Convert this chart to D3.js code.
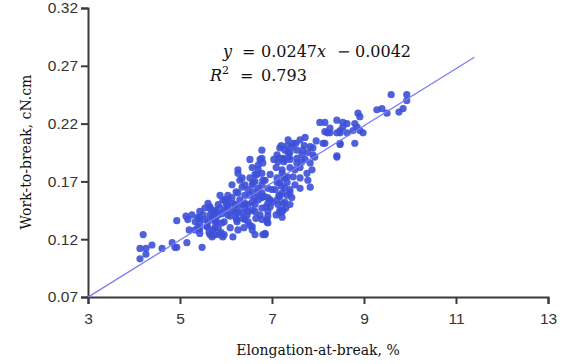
<!DOCTYPE html>
<html>
<head>
<meta charset="utf-8">
<script src="https://cdn.jsdelivr.net/npm/d3@7"></script>
<style>
  body { margin: 0; background: #fff; }
  svg { display: block; }
</style>
</head>
<body>
<div id="chart"></div>
<script>
// axis ticks
const xTicks = [3, 5, 7, 9, 11, 13];
const yTicks = [0.07, 0.12, 0.17, 0.22, 0.27, 0.32];

// fitted line  y = 0.0247x - 0.0042
const slope = 0.0247;
const intercept = -0.0042;
const fitRange = [3, 11.4];

// elongation-at-break (%) and work-to-break (cN.cm)
const elongation = [
  4.20, 4.13, 4.26, 4.39, 4.26, 4.13, 4.61, 4.83, 4.89, 4.93, 5.15, 5.48,
  4.93, 5.13, 5.17, 5.20, 5.41, 5.43, 5.43, 5.43, 5.59, 5.65, 5.70, 5.65,
  5.76, 5.85, 5.96, 5.80, 5.76, 5.87, 5.93, 6.02,
  6.15, 6.63, 6.85, 6.57, 6.48, 6.41, 6.24, 6.89, 6.91, 6.26, 6.26, 6.78,
  6.80, 6.70, 6.67, 6.63, 6.57, 6.59, 6.48, 6.35, 6.26, 6.13, 5.98, 6.04,
  6.26, 6.41, 6.57, 6.70, 6.78, 6.91, 7.00, 6.96, 6.78, 6.63, 6.48, 6.35,
  6.20, 6.04, 5.76, 5.65, 5.54, 5.39, 5.61, 5.76, 5.91, 5.76, 5.70, 5.93,
  7.28, 7.35, 7.22, 7.28, 7.11, 7.22, 7.28, 7.17, 7.22, 7.39,
  8.48, 8.20, 8.11, 8.48, 8.41, 7.83, 7.61, 7.46, 7.33, 7.17, 7.11, 7.13,
  7.24, 7.39, 7.54, 7.67, 7.83, 7.89, 7.83, 7.87, 7.76, 7.78, 7.61, 7.46,
  7.33, 7.39, 7.54, 7.65, 7.22, 7.17, 7.28, 7.39, 7.17, 6.96, 7.22, 6.89,
  6.85, 6.80, 6.78,
  9.59, 9.93, 9.93, 9.85, 9.76, 9.28, 9.39, 9.50, 8.87, 8.91, 8.04, 8.15,
  8.41, 8.54, 8.63, 8.80, 8.85, 8.91, 8.76, 8.54, 8.48, 8.26, 8.15, 8.26,
  8.41, 8.63, 8.98, 8.15, 8.48, 8.80, 8.41, 7.89, 7.93,
  6.80, 6.57, 6.24, 7.17, 7.22, 6.91,
  6.30, 6.41, 6.52, 6.70, 6.85, 6.91, 6.78, 6.96, 7.07, 6.41, 6.20, 6.04,
  5.87, 5.83, 5.98, 6.13, 6.30, 6.52, 6.63, 6.74, 7.00, 7.09, 7.04, 7.39,
  7.50, 7.61, 7.72, 7.50, 7.61, 7.43, 7.24, 7.13, 7.30, 7.09, 6.91, 6.78,
  6.65, 6.52, 6.39, 6.26, 6.09, 5.96, 5.76, 5.65, 5.54, 5.39, 5.33, 5.26,
  5.43, 5.61, 5.70, 5.83, 6.00, 6.13, 6.22, 6.41, 6.52, 6.57, 6.70, 6.78,
  6.74, 6.63, 6.35,
  7.20, 7.28, 7.43, 7.52, 7.37, 7.26, 7.54, 7.65, 7.17, 7.35, 7.70, 7.78,
  7.11, 7.20, 7.33, 7.15, 7.33, 7.24, 7.39, 7.11, 7.26,
  6.04, 6.15, 6.26, 6.37, 6.46, 6.22, 6.09, 5.91, 6.37, 6.48,
  6.59, 6.70, 6.83, 6.87, 6.63, 6.78, 6.57, 6.91,
  5.50, 5.59, 5.72, 5.83, 5.89, 5.63, 5.76, 5.41, 5.33,
  7.72, 7.96
];
const work = [
  0.124, 0.112, 0.112, 0.115, 0.107, 0.103, 0.112, 0.117, 0.113, 0.113, 0.117, 0.113,
  0.136, 0.140, 0.137, 0.128, 0.138, 0.134, 0.125, 0.129, 0.131, 0.147, 0.139, 0.124,
  0.124, 0.124, 0.124, 0.135, 0.144, 0.147, 0.154, 0.148,
  0.122, 0.124, 0.124, 0.128, 0.135, 0.137, 0.137, 0.135, 0.144, 0.177, 0.180, 0.190,
  0.186, 0.180, 0.176, 0.170, 0.167, 0.161, 0.163, 0.165, 0.160, 0.156, 0.154, 0.150,
  0.148, 0.151, 0.152, 0.154, 0.160, 0.156, 0.152, 0.148, 0.147, 0.144, 0.144, 0.143,
  0.143, 0.141, 0.145, 0.148, 0.147, 0.139, 0.135, 0.137, 0.134, 0.130, 0.122, 0.122,
  0.189, 0.195, 0.180, 0.173, 0.169, 0.160, 0.152, 0.145, 0.139, 0.163,
  0.212, 0.212, 0.203, 0.202, 0.192, 0.165, 0.206, 0.203, 0.201, 0.199, 0.193, 0.187,
  0.190, 0.195, 0.197, 0.197, 0.200, 0.193, 0.186, 0.180, 0.177, 0.171, 0.173, 0.174,
  0.174, 0.182, 0.186, 0.187, 0.177, 0.169, 0.164, 0.160, 0.157, 0.154, 0.144, 0.137,
  0.125, 0.171, 0.156,
  0.245, 0.245, 0.240, 0.233, 0.230, 0.232, 0.233, 0.229, 0.229, 0.226, 0.221, 0.221,
  0.223, 0.221, 0.220, 0.220, 0.217, 0.214, 0.214, 0.217, 0.214, 0.216, 0.213, 0.212,
  0.212, 0.212, 0.212, 0.203, 0.203, 0.203, 0.191, 0.199, 0.191,
  0.124, 0.131, 0.135, 0.143, 0.145, 0.134,
  0.171, 0.158, 0.173, 0.164, 0.171, 0.164, 0.177, 0.176, 0.163, 0.147, 0.150, 0.158,
  0.158, 0.150, 0.145, 0.145, 0.154, 0.158, 0.150, 0.141, 0.163, 0.182, 0.189, 0.189,
  0.180, 0.182, 0.189, 0.167, 0.164, 0.156, 0.151, 0.150, 0.147, 0.141, 0.140, 0.137,
  0.138, 0.132, 0.130, 0.128, 0.130, 0.135, 0.135, 0.141, 0.137, 0.130, 0.135, 0.141,
  0.144, 0.151, 0.144, 0.141, 0.151, 0.167, 0.161, 0.167, 0.189, 0.182, 0.184, 0.197,
  0.189, 0.176, 0.173,
  0.201, 0.197, 0.200, 0.203, 0.191, 0.187, 0.190, 0.193, 0.190, 0.206, 0.201, 0.195,
  0.173, 0.166, 0.169, 0.158, 0.158, 0.145, 0.150, 0.154, 0.174,
  0.154, 0.151, 0.143, 0.138, 0.141, 0.138, 0.140, 0.142, 0.150, 0.150,
  0.169, 0.160, 0.157, 0.148, 0.156, 0.167, 0.145, 0.151,
  0.141, 0.131, 0.128, 0.130, 0.126, 0.126, 0.138, 0.138, 0.128,
  0.208, 0.205
];

const W = 565, H = 364;
const margins = { top: 8, left: 88, right: 17, bottom: 67 };
const innerW = W - margins.left - margins.right;
const innerH = H - margins.top - margins.bottom;

const serif = '"DejaVu Serif", "Liberation Serif", serif';

const svg = d3.select('#chart').append('svg')
  .attr('width', W).attr('height', H);

const group = svg.append('g')
  .attr('transform', `translate(${margins.left},${margins.top})`);

const xScale = d3.scaleLinear().domain([3, 13]).range([0, innerW]);
const yScale = d3.scaleLinear().domain([0.07, 0.32]).range([innerH, 0]);

// axes
const xAxisGroup = group.append('g')
  .attr('transform', `translate(0,${innerH})`)
  .call(d3.axisBottom(xScale).tickValues(xTicks).tickSize(7).tickPadding(7));
const yAxisGroup = group.append('g')
  .call(d3.axisLeft(yScale).tickValues(yTicks).tickFormat(d3.format('.2f')).tickSize(7).tickPadding(3));

[xAxisGroup, yAxisGroup].forEach(g => {
  g.select('.domain').attr('stroke', '#3a3a3a').attr('stroke-width', 2);
  g.selectAll('.tick line').attr('stroke', '#3a3a3a').attr('stroke-width', 2);
  g.selectAll('.tick text')
    .attr('fill', '#333')
    .style('font-family', '"Liberation Sans", Arial, sans-serif')
    .style('font-size', '15.5px');
});
xAxisGroup.selectAll('.tick text').attr('dy', '0.85em');

// points
const points = elongation.map((e, i) => ({ x: e, y: work[i] }));
group.selectAll('.pt')
  .data(points)
  .join('circle')
  .attr('class', 'pt')
  .attr('cx', d => xScale(d.x))
  .attr('cy', d => yScale(d.y))
  .attr('r', 3.6)
  .attr('fill', '#3d50d8')
  .attr('fill-opacity', 0.9);

// regression line
const line = d3.line()
  .x(d => xScale(d))
  .y(d => yScale(slope * d + intercept));
group.append('path')
  .datum(fitRange)
  .attr('d', line)
  .attr('fill', 'none')
  .attr('stroke', '#7a7cf2')
  .attr('stroke-width', 1.3);

// equation
const eq = svg.append('text')
  .attr('y', 57)
  .style('font-family', serif)
  .style('font-size', '16px')
  .attr('fill', '#111');
eq.append('tspan').attr('x', 223).attr('font-style', 'italic').text('y');
eq.append('tspan').attr('x', 242).text('=');
eq.append('tspan').attr('x', 261).text('0.0247');
eq.append('tspan').attr('font-style', 'italic').text('x');
eq.append('tspan').attr('x', 337).text('\u2212');
eq.append('tspan').attr('x', 355).text('0.0042');

const r2 = svg.append('text')
  .attr('y', 81)
  .style('font-family', serif)
  .style('font-size', '16px')
  .attr('fill', '#111');
r2.append('tspan').attr('x', 210).attr('font-style', 'italic').text('R');
r2.append('tspan').attr('dy', -7).style('font-size', '11px').text('2');
r2.append('tspan').attr('x', 240).attr('dy', 7).text('=');
r2.append('tspan').attr('x', 261).text('0.793');

// axis titles
svg.append('text')
  .attr('x', 318).attr('y', 355)
  .attr('text-anchor', 'middle')
  .style('font-family', serif)
  .style('font-size', '14px')
  .attr('fill', '#111')
  .text('Elongation-at-break, %');

svg.append('text')
  .attr('transform', 'translate(31,152) rotate(-90)')
  .attr('text-anchor', 'middle')
  .style('font-family', serif)
  .style('font-size', '14px')
  .attr('fill', '#111')
  .text('Work-to-break, cN.cm');
</script>
</body>
</html>
